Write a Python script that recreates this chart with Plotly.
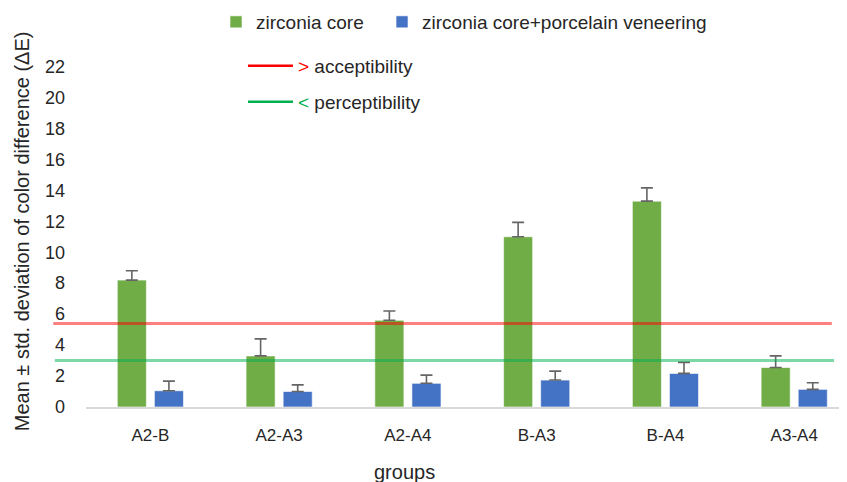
import plotly.graph_objects as go

groups = ["A2-B", "A2-A3", "A2-A4", "B-A3", "B-A4", "A3-A4"]
core_mean = [8.2, 3.3, 5.6, 11.0, 13.3, 2.55]
core_sd = [0.6, 1.1, 0.6, 0.93, 0.86, 0.75]
veneer_mean = [1.05, 1.0, 1.53, 1.74, 2.17, 1.14]
veneer_sd = [0.62, 0.43, 0.53, 0.58, 0.71, 0.43]
acceptability = 5.4
perceptibility = 3.0
y_title = "Mean ± std. deviation of color difference (ΔE)"
x_title = "groups"

GREEN = "#70AD47"
BLUE = "#4472C4"
RED = "#FF0000"
LGREEN = "#00B050"
FONT = "Liberation Sans, Arial, sans-serif"
TXT = "#262626"

fig = go.Figure()
fig.add_trace(go.Bar(
    x=groups, y=core_mean, name="zirconia core",
    marker=dict(color=GREEN, line=dict(color="rgba(255,255,255,0.6)", width=1)),
    error_y=dict(type="data", array=core_sd, arrayminus=[0]*6, symmetric=False,
                 color="#656565", thickness=1.6, width=6),
    legend="legend", showlegend=True,
))
fig.add_trace(go.Bar(
    x=groups, y=veneer_mean, name="zirconia core+porcelain veneering",
    marker=dict(color=BLUE, line=dict(color="rgba(255,255,255,0.6)", width=1)),
    error_y=dict(type="data", array=veneer_sd, arrayminus=[0]*6, symmetric=False,
                 color="#656565", thickness=1.6, width=6),
    legend="legend4", showlegend=True,
))
fig.add_trace(go.Scatter(
    x=[None], y=[None], mode="lines", line=dict(color=RED, width=2.5),
    name="<span style='color:#FF0000'>&gt;</span> acceptibility", legend="legend2",
    showlegend=True,
))
fig.add_trace(go.Scatter(
    x=[None], y=[None], mode="lines", line=dict(color=LGREEN, width=2.5),
    name="<span style='color:#00B050'>&lt;</span> perceptibility", legend="legend3",
    showlegend=True,
))

fig.add_shape(type="line", xref="paper", yref="y", x0=-0.043, x1=0.980,
              y0=acceptability, y1=acceptability, layer="above",
              line=dict(color=RED, width=3), opacity=0.5)
fig.add_shape(type="line", xref="paper", yref="y", x0=-0.041, x1=0.983,
              y0=perceptibility, y1=perceptibility, layer="above",
              line=dict(color=LGREEN, width=3), opacity=0.5)

fig.add_annotation(text=y_title, textangle=-90, xref="paper", yref="paper",
                   x=-0.0841, y=0.4937, xanchor="center", yanchor="middle",
                   showarrow=False, font=dict(size=20, color=TXT, family=FONT))
fig.add_annotation(text=x_title, xref="paper", yref="paper",
                   x=0.419, y=-0.147, xanchor="center", yanchor="top",
                   showarrow=False, font=dict(size=20, color=TXT, family=FONT))

leg_common = dict(xanchor="left", yanchor="middle", xref="container", yref="container",
                  bgcolor="rgba(0,0,0,0)", visible=True,
                  font=dict(size=19, color=TXT, family=FONT))

fig.update_layout(
    width=847, height=482,
    showlegend=True,
    margin=dict(l=78, r=8, t=42.5, b=83, autoexpand=False),
    paper_bgcolor="white", plot_bgcolor="white",
    barmode="group", bargap=0.424, bargroupgap=0.216,
    font=dict(family=FONT, size=16, color=TXT),
    legend=dict(x=0.2456, y=0.971, itemwidth=30, **leg_common),
    legend4=dict(x=0.4416, y=0.971, itemwidth=30, **leg_common),
    legend2=dict(x=0.2774, y=0.8797, itemwidth=45, **leg_common),
    legend3=dict(x=0.2774, y=0.805, itemwidth=45, **leg_common),
    xaxis=dict(type="category", range=[-0.5, 5.41], showline=True, linecolor="#d9d9d9",
               linewidth=1.5, ticks="", showgrid=False, tickfont=dict(size=17, color=TXT),
               ticklabelstandoff=12),
    yaxis=dict(range=[0, 23], tickvals=list(range(0, 23, 2)), showgrid=False, zeroline=False,
               showline=False, ticks="", tickfont=dict(size=18, color=TXT),
               ticklabelstandoff=20),
)

fig.write_html("out.html")
